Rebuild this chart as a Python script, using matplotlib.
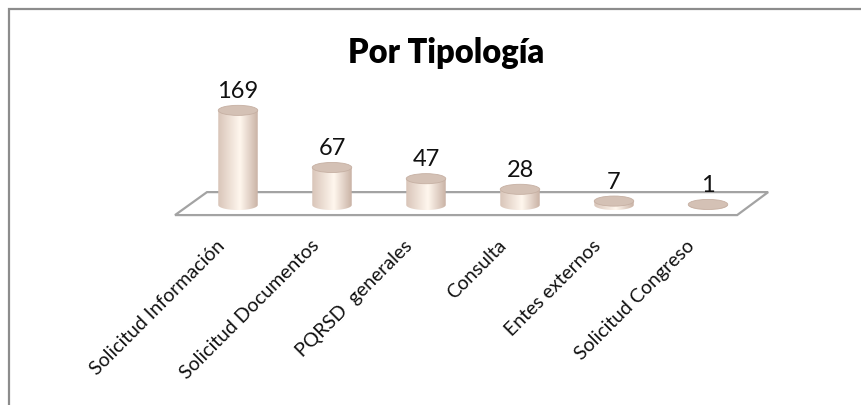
import numpy as np
import matplotlib.pyplot as plt
from matplotlib.patches import Ellipse, Polygon, Rectangle, PathPatch
from matplotlib.path import Path
from matplotlib.colors import to_rgb

plt.rcParams['font.family'] = ['Lato', 'DejaVu Sans']

title = "Por Tipología"
categories = ["Solicitud Información", "Solicitud Documentos", "PQRSD  generales",
              "Consulta", "Entes externos", "Solicitud Congreso"]
values = [169, 67, 47, 28, 7, 1]

W, H = 861, 406
fig = plt.figure(figsize=(W / 100, H / 100), dpi=100)
ax = fig.add_axes([0, 0, 1, 1])
ax.axis("off")

# pixel layout of the plot area -> data limits
x0_px, step_px, base_px, px_per_unit = 238, 94, 206, 0.56
xlim = ((0 - x0_px) / step_px, (W - x0_px) / step_px)
ylim = ((base_px - H) / px_per_unit, base_px / px_per_unit)

half_w = 0.21     # cylinder half width (category units)
ry = 9.0          # ellipse half height (value units)

# horizontal gradient for the cylinder body
stops = [(0.0, "#d9c5b9"), (0.55, "#fff7ee"), (1.0, "#cab3a6")]
t = np.linspace(0, 1, 64)
grad = np.zeros((1, 64, 3))
for k in range(3):
    grad[0, :, k] = np.interp(t, [s[0] for s in stops], [to_rgb(s[1])[k] for s in stops])

# floor
n = len(values)
floor = Polygon([(-0.67, -18), (n - 1 + 0.31, -18), (n - 1 + 0.64, 23), (-0.33, 23)],
                closed=True, facecolor="white", edgecolor="#a3a3a3", lw=1.6, zorder=1)
ax.add_patch(floor)

theta = np.linspace(np.pi, 2 * np.pi, 40)
for i, v in enumerate(values):
    # body outline: bottom half-ellipse, right side, top, left side
    bx = i + half_w * np.cos(theta)
    by = ry * np.sin(theta)
    verts = list(zip(bx, by)) + [(i + half_w, v), (i - half_w, v), (i - half_w, 0)]
    body = Path(verts, closed=True)
    clip = PathPatch(body, transform=ax.transData, facecolor="none", edgecolor="none")
    ax.add_patch(clip)
    im = ax.imshow(grad, extent=[i - half_w, i + half_w, -ry, v + ry],
                   aspect="auto", interpolation="bilinear", zorder=2)
    im.set_clip_path(clip)
    top = Ellipse((i, v), 2 * half_w, 2 * ry, facecolor="#d4c1b5",
                  edgecolor="#c6b0a3", lw=0.6, zorder=3)
    ax.add_patch(top)
    ax.annotate(str(v), (i, v + ry), xytext=(0, 6), textcoords="offset points",
                ha="center", va="baseline", fontsize=17, color="#111111", zorder=4)
    ax.text(i - 16 / step_px, (base_px - 243) / px_per_unit, categories[i],
            rotation=45, rotation_mode="anchor", ha="right", va="center",
            fontsize=14, color="#111111")

ax.set_xlim(*xlim)
ax.set_ylim(*ylim)

fig.text(446 / W, 1 - 63 / H, title, ha="center", va="baseline",
         fontsize=23.5, fontweight="heavy", color="#000000")

# chart border (cut off at the right and bottom)
fig.patches.append(Rectangle((9 / W, -0.1), 1.2, 1.1 - 10 / H, transform=fig.transFigure,
                             fill=False, edgecolor="#8c8c8c", lw=1.6))

fig.savefig("out.png", dpi=100)
